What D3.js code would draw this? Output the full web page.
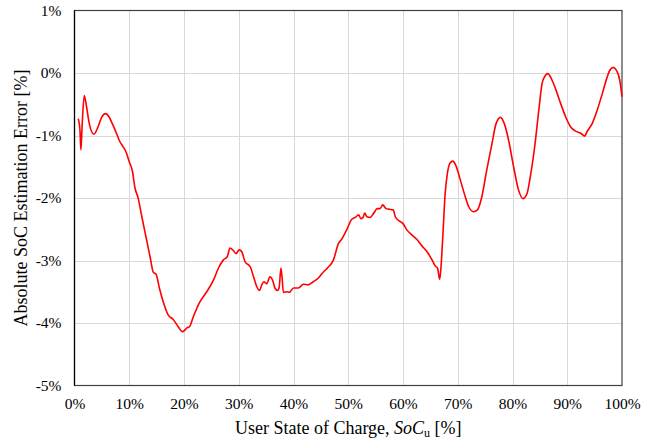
<!DOCTYPE html>
<html>
<head>
<meta charset="utf-8">
<script src="https://cdn.jsdelivr.net/npm/d3@7"></script>
<style>
  html, body { margin: 0; padding: 0; background: #fff; }
  svg text { font-family: "Times New Roman", "Liberation Serif", "DejaVu Serif", serif; fill: #000; }
</style>
</head>
<body>
<svg id="chart" width="657" height="442"></svg>
<script>
// User state of charge [%]
const soc = [
  0.68, 1.0, 1.17, 1.41, 1.78, 2.2, 2.7, 3.55, 4.3, 4.95, 5.68, 6.3, 6.8, 7.5,
  8.3, 8.8, 9.4, 10.0, 10.6, 11.0, 11.65, 12.3, 13.05, 13.8, 14.4, 14.9, 15.5,
  16.2, 17.1, 18.0, 18.95, 19.7, 20.2, 20.5, 21.0, 21.7, 22.85, 24.15, 25.4,
  26.3, 27.2, 27.9, 28.4, 29.0, 29.5, 30.1, 30.55, 31.15, 32.1, 32.7, 33.3,
  33.8, 34.2, 34.6, 35.1, 35.7, 36.2, 36.6, 37.1, 37.4, 37.7, 37.9, 38.15,
  38.8, 39.25, 40.0, 40.9, 41.8, 42.7, 43.6, 44.55, 45.5, 46.2, 47.3, 48.2,
  48.8, 49.7, 50.65, 51.3, 51.9, 52.3, 52.7, 53.0, 53.4, 54.0, 54.6, 55.3,
  55.8, 56.3, 56.9, 57.5, 58.2, 58.6, 59.2, 60.0, 60.7, 61.6, 62.5, 63.5,
  64.4, 65.3, 65.9, 66.3, 66.7, 66.9, 67.3, 67.7, 68.1, 68.6, 69.1, 69.7,
  70.4, 71.2, 72.0, 72.9, 73.6, 74.4, 75.3, 76.25, 77.0, 77.8, 78.5, 79.3,
  80.2, 81.1, 81.9, 82.65, 83.25, 84.05, 84.8, 85.4, 86.0, 86.45, 87.25,
  87.85, 88.8, 89.7, 90.6, 91.5, 92.4, 93.2, 93.6, 94.55, 95.45, 96.4, 97.2,
  97.75, 98.4, 99.0, 99.6, 100.0
];

// Absolute SoC estimation error [%]
const err = [
  -0.73, -0.92, -1.23, -0.81, -0.36, -0.54, -0.81, -0.98, -0.86, -0.71, -0.65,
  -0.70, -0.79, -0.93, -1.10, -1.17, -1.26, -1.42, -1.58, -1.82, -2.01, -2.30,
  -2.62, -2.94, -3.19, -3.22, -3.44, -3.66, -3.87, -3.94, -4.06, -4.14, -4.11,
  -4.08, -4.06, -3.90, -3.67, -3.50, -3.31, -3.12, -2.99, -2.94, -2.80, -2.84,
  -2.89, -2.83, -2.86, -3.02, -3.10, -3.26, -3.42, -3.48, -3.39, -3.34, -3.37,
  -3.26, -3.32, -3.44, -3.48, -3.42, -3.12, -3.26, -3.51, -3.50, -3.51, -3.44,
  -3.44, -3.38, -3.39, -3.34, -3.28, -3.18, -3.12, -2.99, -2.73, -2.66, -2.51,
  -2.34, -2.31, -2.27, -2.33, -2.31, -2.24, -2.30, -2.31, -2.25, -2.17, -2.17,
  -2.11, -2.17, -2.18, -2.19, -2.30, -2.36, -2.41, -2.51, -2.59, -2.66, -2.77,
  -2.86, -2.99, -3.09, -3.12, -3.30, -3.15, -2.57, -1.93, -1.61, -1.44, -1.41,
  -1.49, -1.69, -1.93, -2.14, -2.22, -2.19, -1.98, -1.55, -1.13, -0.81, -0.71,
  -0.81, -1.08, -1.50, -1.87, -2.01, -1.93, -1.66, -1.18, -0.60, -0.17, -0.04,
  -0.01, -0.12, -0.25, -0.49, -0.70, -0.86, -0.93, -0.96, -1.01, -0.94, -0.81,
  -0.60, -0.33, -0.09, 0.04, 0.09, 0.04, -0.12, -0.38
];

const xTicks = [0, 10, 20, 30, 40, 50, 60, 70, 80, 90, 100];
const yTicks = [1, 0, -1, -2, -3, -4, -5];

const serif = "'Times New Roman', 'Liberation Serif', 'DejaVu Serif', serif";

const svg = d3.select("#chart");
const m = { left: 74.5, right: 622, top: 10.5, bottom: 385.5 };

const x = d3.scaleLinear().domain([0, 100]).range([m.left, m.right]);
const y = d3.scaleLinear().domain([-5, 1]).range([m.bottom, m.top]);

// grid lines
const grid = svg.append("g").attr("stroke", "#d9d9d9").attr("stroke-width", 1);
grid.selectAll("line.gx").data(xTicks.slice(1, -1)).join("line")
  .attr("x1", d => Math.round(x(d)) + 0.5).attr("x2", d => Math.round(x(d)) + 0.5)
  .attr("y1", m.top).attr("y2", m.bottom);
grid.selectAll("line.gy").data(yTicks.slice(1, -1)).join("line")
  .attr("y1", d => Math.round(y(d)) + 0.5).attr("y2", d => Math.round(y(d)) + 0.5)
  .attr("x1", m.left).attr("x2", m.right);

// plot frame
svg.append("rect")
  .attr("x", m.left).attr("y", m.top)
  .attr("width", m.right - m.left).attr("height", m.bottom - m.top)
  .attr("fill", "none").attr("stroke", "#404040").attr("stroke-width", 1.2);

// axes (labels only; the frame carries the lines)
const xAxis = svg.append("g")
  .attr("transform", `translate(0,${m.bottom})`)
  .call(d3.axisBottom(x).tickValues(xTicks).tickSize(0).tickPadding(12)
    .tickFormat(d => d + "%"))
  .attr("font-family", serif).attr("font-size", 15.5);
xAxis.select(".domain").remove();

const yAxis = svg.append("g")
  .attr("transform", `translate(${m.left},0)`)
  .call(d3.axisLeft(y).tickValues(yTicks).tickSize(0).tickPadding(13)
    .tickFormat(d => d + "%"))
  .attr("font-family", serif).attr("font-size", 15.5);
yAxis.select(".domain").remove();

svg.append("line")
  .attr("x1", m.left).attr("x2", m.left).attr("y1", m.top).attr("y2", m.bottom)
  .attr("stroke", "#000").attr("stroke-width", 1.2);

// data series
const pts = soc.map((s, i) => [s, err[i]]);
svg.append("path")
  .datum(pts)
  .attr("fill", "none")
  .attr("stroke", "#ff0000")
  .attr("stroke-width", 1.6)
  .attr("stroke-linejoin", "round")
  .attr("d", d3.line().x(d => x(d[0])).y(d => y(d[1])).curve(d3.curveMonotoneX));

// axis titles
const xt = svg.append("text")
  .attr("x", (m.left + m.right) / 2).attr("y", 434)
  .attr("text-anchor", "middle").attr("font-size", 18)
  .attr("font-family", serif);
xt.append("tspan").text("User State of Charge, ");
xt.append("tspan").attr("font-style", "italic").text("SoC");
xt.append("tspan").attr("font-size", 12).attr("dy", 3).text("u");
xt.append("tspan").attr("dy", -3).text(" [%]");

svg.append("text")
  .attr("transform", `translate(27,${(m.top + m.bottom) / 2}) rotate(-90)`)
  .attr("text-anchor", "middle").attr("font-size", 18)
  .attr("font-family", serif)
  .text("Absolute SoC Estimation Error [%]");
</script>
</body>
</html>
